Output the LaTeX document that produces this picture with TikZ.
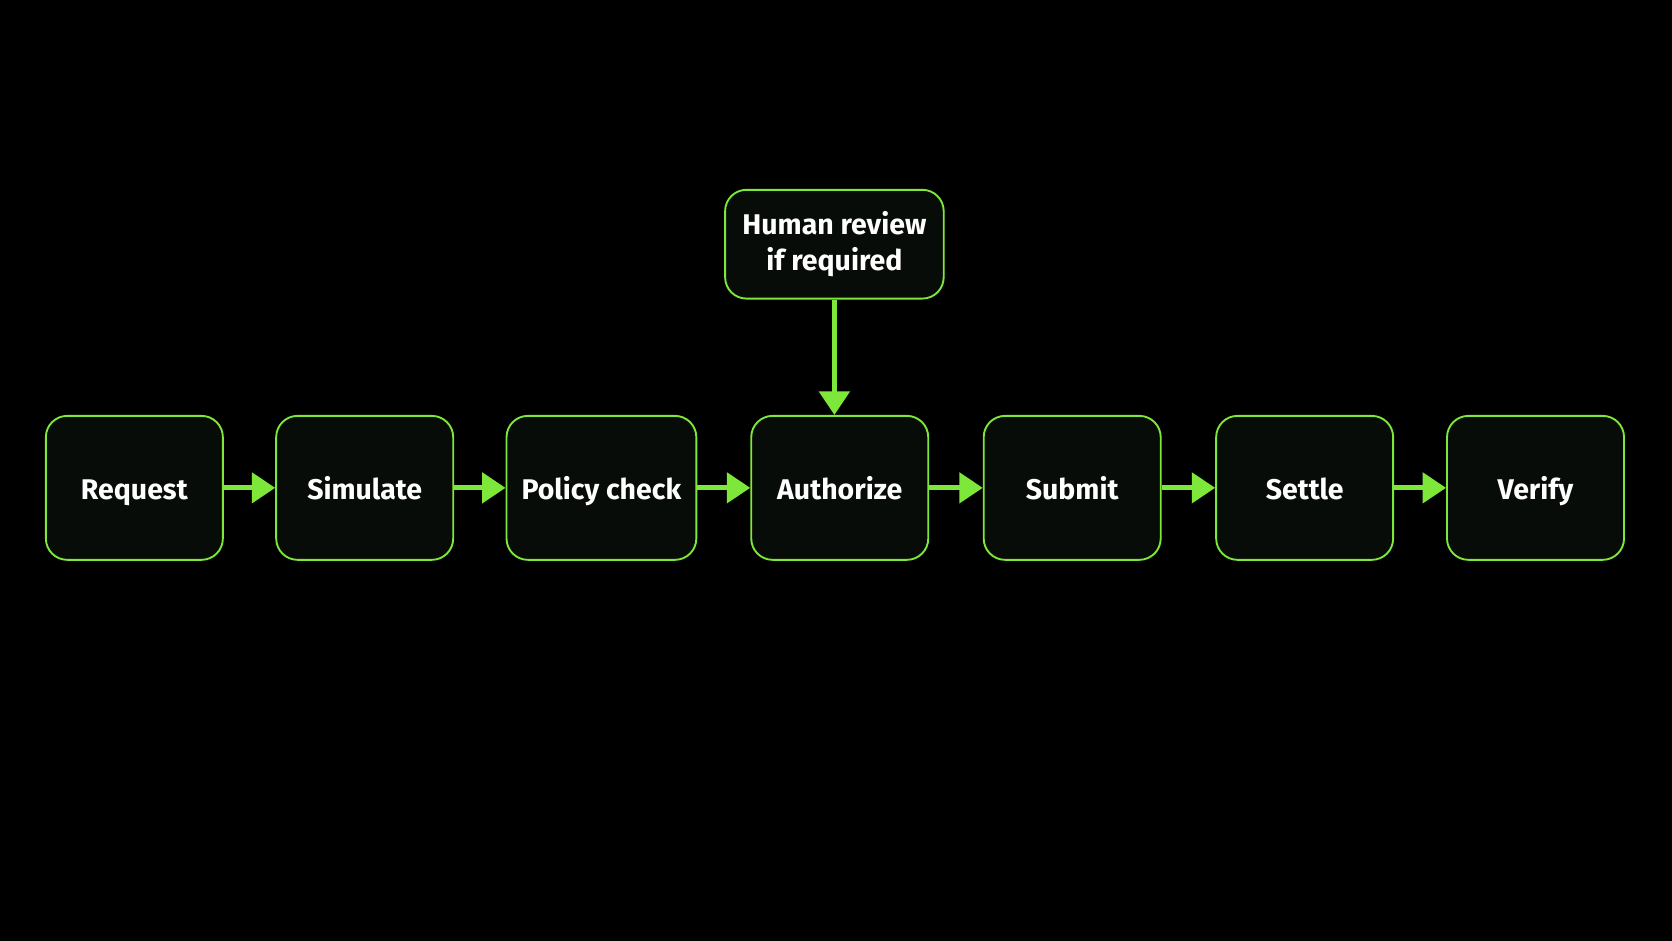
\documentclass[tikz,border=0pt]{standalone}
\usepackage{fontspec}
\setmainfont{Fira Sans}
\usetikzlibrary{arrows.meta, positioning}
\definecolor{lime}{HTML}{7DE83A}
\definecolor{boxbg}{HTML}{080C08}
\begin{document}
\begin{tikzpicture}
  [
    Step/.style={rectangle, rounded corners=2mm, draw=lime, fill=boxbg, line width=0.5pt,
      minimum width=16.6mm, minimum height=13.5mm, text=white, font=\fontsize{7.6}{9.4}\selectfont\bfseries, align=center},
    Line/.style={Step, text height=1.6ex, text depth=0.45ex},
    Flow/.style={-{Triangle[length=2.2mm, width=2.8mm]}, draw=lime, line width=1.4pt}
  ]
  \fill[black] (0,0) rectangle (15.68,8.82);
  % Nodes
  \node[Line] (req) at(1.26, 4.245) {Request};
  \node[Line] (sim) at(3.42, 4.245) {Simulate};
  \node[Line, minimum width=17.8mm] (pol) at(5.64, 4.245) {Policy check};
  \node[Line] (auth) at(7.875, 4.245) {Authorize};
  \node[Line] (sub) at(10.055, 4.245) {Submit};
  \node[Line] (set) at(12.235, 4.245) {Settle};
  \node[Line] (ver) at(14.40, 4.245) {Verify};
  \node[Step, minimum width=20.5mm, minimum height=10.2mm] (hum) at(7.825, 6.53) {Human review\\if required};
  % Lines
  \path[Flow] (req) -- (sim);
  \path[Flow] (sim) -- (pol);
  \path[Flow] (pol) -- (auth);
  \path[Flow] (auth) -- (sub);
  \path[Flow] (sub) -- (set);
  \path[Flow] (set) -- (ver);
  \path[Flow] (hum.south) -- (hum.south |- auth.north);
\end{tikzpicture}
\end{document}
